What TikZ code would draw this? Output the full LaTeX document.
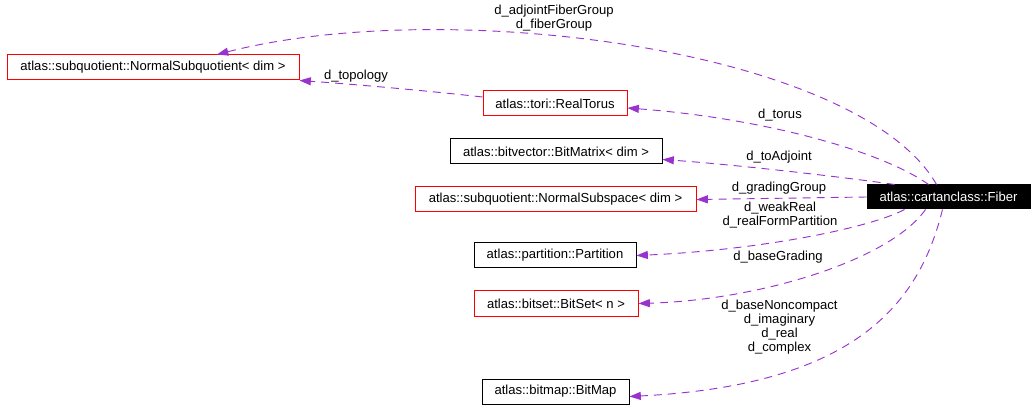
\documentclass[tikz,border=0pt]{standalone}
\usepackage{fontspec}
\setmainfont{Liberation Sans}
\usetikzlibrary{arrows.meta,calc}
\definecolor{edgepurple}{HTML}{9A32CD}
\definecolor{boxred}{HTML}{FF0000}
\begin{document}
\begin{tikzpicture}[x=0.75pt,y=-0.75pt,>={Triangle[length=8.5pt,width=6pt]},
  every node/.style={font=\fontsize{9.8}{10.5}\selectfont},
  cls/.style={draw=black,line width=0.75pt,minimum height=18.75pt,inner sep=0pt},
  clsred/.style={cls,draw=boxred},
  member/.style={->,draw=edgepurple,line width=0.7pt,dash pattern=on 6pt off 4.5pt},
  lbl/.style={align=center,inner sep=0pt}]
  \useasboundingbox (0,0) rectangle (1035,420);
  % classes
  \node[clsred,minimum width=219pt] (subquot) at (153,67.5) {atlas::subquotient::NormalSubquotient< dim >};
  \node[clsred,minimum width=108pt] (torus) at (555,103.5) {atlas::tori::RealTorus};
  \node[cls,minimum width=159pt] (bitmatrix) at (556,151.5) {atlas::bitvector::BitMatrix< dim >};
  \node[clsred,minimum width=210.75pt] (subspace) at (555.5,199.5) {atlas::subquotient::NormalSubspace< dim >};
  \node[cls,minimum width=121.5pt] (partition) at (555,255.5) {atlas::partition::Partition};
  \node[clsred,minimum width=123pt] (bitset) at (556,303.5) {atlas::bitset::BitSet< n >};
  \node[cls,minimum width=110.25pt] (bitmap) at (555.5,391.5) {atlas::bitmap::BitMap};
  \node[cls,fill=black,text=white,minimum width=122.25pt,minimum height=18pt] (fiber) at (948.5,197) {atlas::cartanclass::Fiber};
  % members
  \draw[member] ($(fiber.north)+(-12,0)$) .. controls (860,50) and (450,-5) .. ($(subquot.north)+(64,0)$);
  \draw[member] ($(torus.west)+(0,-6.5)$) .. controls (420,90) and (350,84) .. (subquot.south east);
  \draw[member] ($(fiber.north)+(-20,0)$) .. controls (880,150) and (760,118) .. ($(torus.east)+(0,4.5)$);
  \draw[member] ($(fiber.north west)+(28,0)$) .. controls (850,178) and (740,165) .. ($(bitmatrix.east)+(0,8)$);
  \draw[member] (fiber.west) -- (subspace.east);
  \draw[member] ($(fiber.south west)+(38,0)$) .. controls (870,228) and (760,250) .. (partition.east);
  \draw[member] ($(fiber.south)+(-23,0)$) .. controls (890,260) and (760,300) .. (bitset.east);
  \draw[member] ($(fiber.south)+(-6,0)$) .. controls (920,300) and (860,385) .. ($(bitmap.east)+(0,5)$);
  % member names
  \node[lbl] (lfiber) at (554,18) {d\_adjointFiberGroup\\d\_fiberGroup};
  \node[lbl] (ltopology) at (356,76) {d\_topology};
  \node[lbl] (ltorus) at (780,115) {d\_torus};
  \node[lbl] (ladjoint) at (779,157) {d\_toAdjoint};
  \node[lbl] (lgrading) at (779,188) {d\_gradingGroup};
  \node[lbl] (lweak) at (780,215.5) {d\_weakReal\\d\_realFormPartition};
  \node[lbl] (lbase) at (778,257) {d\_baseGrading};
  \node[lbl] (lcomplex) at (779.5,327) {d\_baseNoncompact\\d\_imaginary\\d\_real\\d\_complex};
\end{tikzpicture}
\end{document}
